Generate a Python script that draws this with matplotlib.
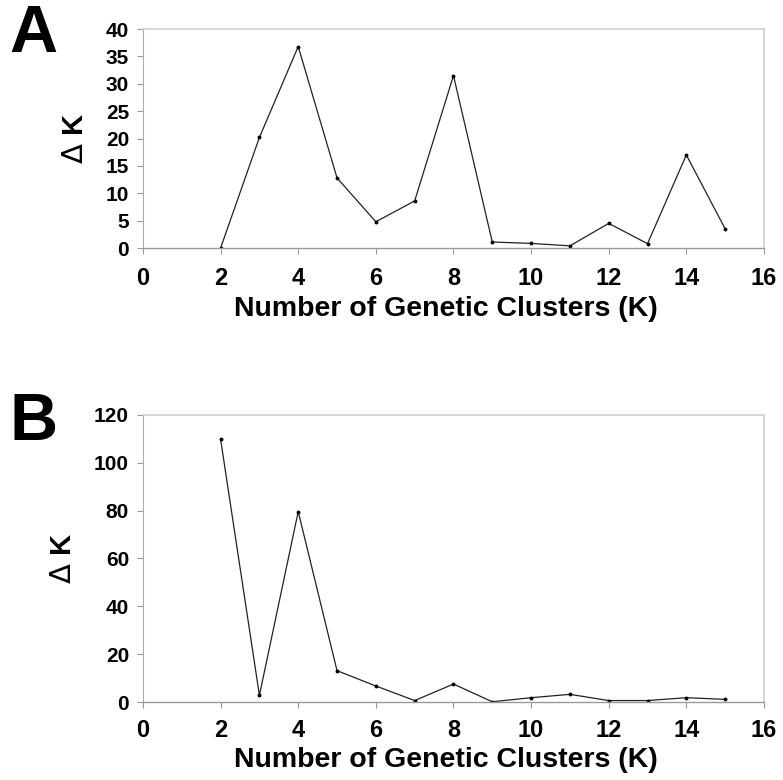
import matplotlib.pyplot as plt

# Delta K values for each number of clusters, two data sets
k_values = [2, 3, 4, 5, 6, 7, 8, 9, 10, 11, 12, 13, 14, 15]
delta_k_a = [0, 20.2, 36.8, 12.8, 4.8, 8.6, 31.5, 1.1, 0.85, 0.4, 4.5, 0.8, 17.0, 3.5]
delta_k_b = [109.8, 2.8, 79.6, 13.1, 6.7, 0.6, 7.5, 0.1, 1.8, 3.2, 0.6, 0.6, 1.8, 1.1]

x_ticks = [0, 2, 4, 6, 8, 10, 12, 14, 16]
y_ticks_a = [0, 5, 10, 15, 20, 25, 30, 35, 40]
y_ticks_b = [0, 20, 40, 60, 80, 100, 120]

plt.rcParams['font.family'] = ['Liberation Sans', 'DejaVu Sans']
plt.rcParams['mathtext.fontset'] = 'dejavusans'

fig = plt.figure(figsize=(7.83, 7.8), dpi=100)
ax_a = fig.add_axes([0.1826, 0.682, 0.7931, 0.2808])
ax_b = fig.add_axes([0.1826, 0.100, 0.7931, 0.368])


def style_panel(ax, yvals, yticks, ylim, xtick_pad):
    ax.plot(k_values, yvals, color='#222222', linewidth=0.9, marker='o',
            markersize=1.8, markerfacecolor='black', markeredgecolor='black')
    ax.set_xlim(0, 16)
    ax.set_ylim(*ylim)
    ax.set_xticks(x_ticks)
    ax.set_yticks(yticks)
    ax.tick_params(axis='x', labelsize=17, length=4, width=0.8,
                   color='#999999', pad=xtick_pad, direction='out')
    ax.tick_params(axis='y', labelsize=15, length=4, width=0.8,
                   color='#999999', pad=6, direction='out')
    for lab in ax.get_xticklabels() + ax.get_yticklabels():
        lab.set_fontweight('bold')
    for side in ['top', 'right']:
        ax.spines[side].set_color('#cfcfcf')
        ax.spines[side].set_linewidth(1.2)
    ax.spines['bottom'].set_color('#999999')
    ax.spines['bottom'].set_linewidth(1.0)
    ax.spines['left'].set_color('#aaaaaa')
    ax.spines['left'].set_linewidth(0.8)
    ax.set_ylabel(r'$\Delta$ K', fontsize=21, fontweight='bold', labelpad=12)
    ax.set_xlabel('Number of Genetic Clusters (K)', fontsize=20.5,
                  fontweight='bold', labelpad=4)
    ax.xaxis.label.set_x(0.487)


style_panel(ax_a, delta_k_a, y_ticks_a, (0, 40), 10)
style_panel(ax_b, delta_k_b, y_ticks_b, (0, 120), 8)
ax_b.xaxis.labelpad = 4

fig.text(0.012, 0.995, 'A', fontsize=48, fontweight='bold', va='top', ha='left')
fig.text(0.012, 0.498, 'B', fontsize=48, fontweight='bold', va='top', ha='left')

fig.savefig('out.png', dpi=100)
